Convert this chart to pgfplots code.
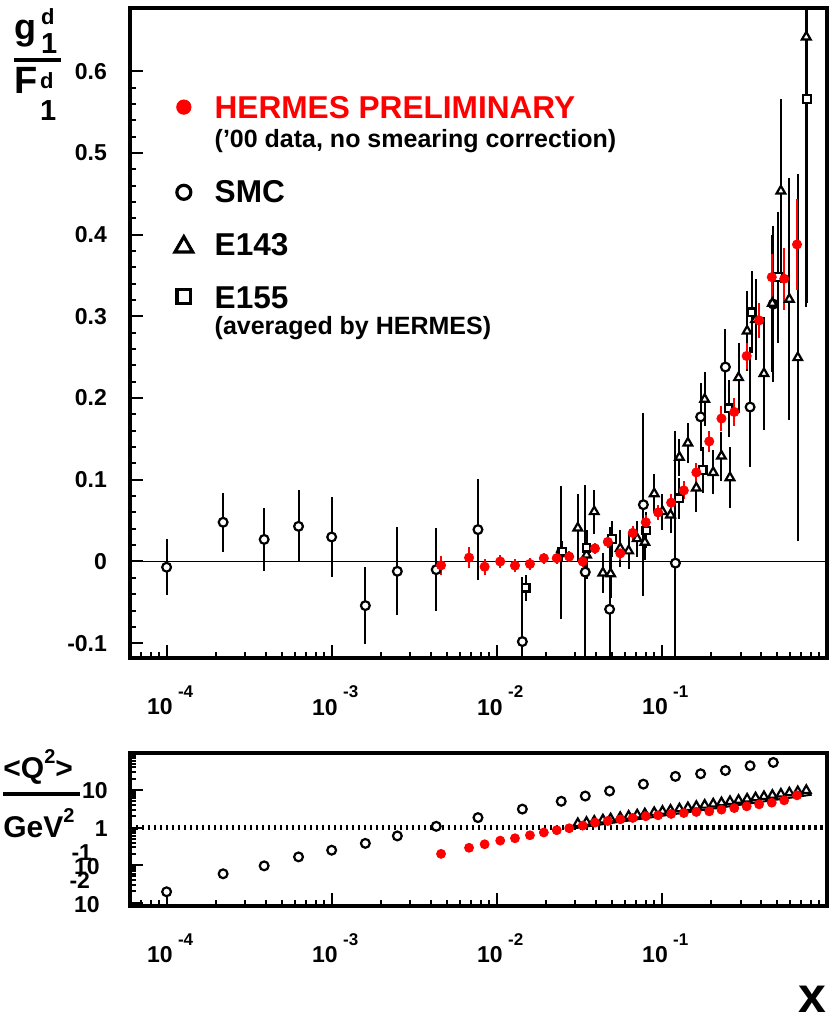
\documentclass[border=0pt]{standalone}
\usepackage{pgfplots}
\usepackage{pgfplotstable}
\pgfplotsset{compat=1.18}
\usepackage{fontspec}
\setmainfont{Liberation Sans}
\setsansfont{Liberation Sans}

\newcommand{\fs}[1]{\fontsize{#1}{#1}\selectfont}
\newcommand{\xl}[1]{10\hspace{2.7pt}\raisebox{8.7pt}{\fs{8.5}#1}}

% g1/F1 (top panel): x, value, stat. error
\pgfplotstableread{
x y ey
0.0046 -0.0047 0.012
0.0068 0.0047 0.0125
0.00845 -0.0064 0.010
0.0105 0.0 0.008
0.0129 -0.005 0.008
0.0159 -0.003 0.007
0.0193 0.004 0.007
0.0231 0.004 0.007
0.0275 0.006 0.007
0.0332 0.0 0.007
0.0394 0.016 0.007
0.0471 0.024 0.008
0.0561 0.010 0.008
0.0667 0.035 0.009
0.080 0.048 0.009
0.095 0.060 0.009
0.114 0.072 0.010
0.136 0.087 0.011
0.162 0.109 0.012
0.194 0.147 0.013
0.230 0.175 0.015
0.275 0.183 0.017
0.327 0.2515 0.016
0.389 0.295 0.021
0.464 0.348 0.028
0.552 0.346 0.038
0.660 0.388 0.056
}\hermes

\pgfplotstableread{
x y ey
0.0001 -0.007 0.034
0.00022 0.048 0.036
0.00039 0.027 0.039
0.00063 0.043 0.044
0.001 0.030 0.049
0.0016 -0.054 0.047
0.0025 -0.012 0.054
0.0043 -0.010 0.051
0.0077 0.039 0.062
0.0143 -0.098 0.079
0.0246 0.011 0.081
0.0344 -0.013 0.107
0.0483 -0.0585 0.101
0.0774 0.0695 0.112
0.121 -0.002 0.162
0.172 0.177 0.042
0.243 0.238 0.046
0.343 0.189 0.073
0.474 0.315 0.095
}\smc

\pgfplotstableread{
x y ey
0.031 0.041 0.041
0.035 0.008 0.030
0.039 0.061 0.027
0.044 -0.014 0.025
0.049 -0.015 0.030
0.056 0.016 0.023
0.063 0.013 0.022
0.071 0.028 0.022
0.079 0.0235 0.022
0.090 0.083 0.024
0.101 0.061 0.022
0.113 0.057 0.022
0.128 0.1275 0.023
0.144 0.145 0.024
0.162 0.090 0.030
0.182 0.1985 0.033
0.205 0.109 0.027
0.230 0.129 0.030
0.259 0.1026 0.037
0.292 0.225 0.043
0.329 0.282 0.049
0.370 0.296 0.050
0.416 0.230 0.069
0.468 0.316 0.084
0.527 0.4535 0.113
0.593 0.321 0.148
0.667 0.2495 0.225
0.751 0.642 0.33
}\esla

\pgfplotstableread{
x y ey
0.015 -0.032 0.016
0.025 0.012 0.013
0.035 0.017 0.015
0.050 0.0275 0.022
0.0805 0.038 0.022
0.127 0.0773 0.025
0.177 0.112 0.028
0.254 0.1875 0.035
0.351 0.305 0.05
0.505 0.348 0.08
0.757 0.566 0.25
}\eslb

% <Q^2> (bottom panel)
\pgfplotstableread{
x q
0.0046 0.20
0.0068 0.29
0.00845 0.36
0.0105 0.45
0.0129 0.52
0.0159 0.625
0.0193 0.74
0.0231 0.85
0.0275 0.96
0.0332 1.13
0.0394 1.36
0.0471 1.50
0.0561 1.66
0.0667 1.80
0.080 2.00
0.095 2.12
0.114 2.30
0.136 2.44
0.162 2.60
0.194 2.70
0.230 3.00
0.275 3.30
0.327 3.67
0.389 4.15
0.464 4.60
0.552 5.30
0.660 7.20
}\hermesq

\pgfplotstableread{
x q
0.0001 0.0196
0.00022 0.059
0.00039 0.096
0.00063 0.166
0.001 0.25
0.0016 0.38
0.0025 0.60
0.0043 1.08
0.0077 1.84
0.0143 3.1
0.0246 5.0
0.0344 6.9
0.0483 9.4
0.0774 14.3
0.121 23
0.172 27
0.243 33
0.343 44
0.474 54
}\smcq

\pgfplotstableread{
x q
0.031 1.28
0.035 1.38
0.039 1.48
0.044 1.60
0.049 1.71
0.056 1.86
0.063 2.01
0.071 2.17
0.079 2.32
0.090 2.52
0.101 2.71
0.113 2.91
0.128 3.16
0.144 3.40
0.162 3.67
0.182 3.95
0.205 4.26
0.230 4.59
0.259 4.95
0.292 5.34
0.329 5.76
0.370 6.21
0.416 6.69
0.468 7.22
0.527 7.79
0.593 8.40
0.667 9.05
0.751 9.77
}\eslaq

\pgfplotsset{
  opensmc/.style={forget plot, only marks, black, mark=*, mark size=2.2pt,
    mark options={fill=white, draw=black, line width=1.1pt}},
  opentri/.style={forget plot, only marks, black, mark=triangle*, mark size=2.5pt,
    mark options={fill=white, draw=black, line width=1.1pt}},
  opensq/.style={forget plot, only marks, black, mark=square*, mark size=1.9pt,
    mark options={fill=white, draw=black, line width=1.1pt}},
  reddot/.style={forget plot, only marks, red, mark=*, mark size=2.3pt},
  legmark/.style={legend image code/.code={%
    \draw[##1] plot[only marks] coordinates {(0pt,#1)};}},
}

\begin{document}
\begin{tikzpicture}
\useasboundingbox (0,0) rectangle (415pt,-511.5pt);

% ---- upper panel: g1/F1 ----
\begin{axis}[
  at={(65pt,-4.15pt)}, anchor=north west,
  scale only axis, width=348.4pt, height=325pt,
  xmode=log, xmin=6e-5, xmax=1,
  ymin=-0.1185, ymax=0.677,
  axis line style={line width=2pt},
  xtick={1e-4,1e-3,1e-2,1e-1},
  xticklabels={\xl{-4},\xl{-3},\xl{-2},\xl{-1}},
  minor xtick={7e-5,8e-5,9e-5,2e-4,3e-4,4e-4,5e-4,6e-4,7e-4,8e-4,9e-4,
    2e-3,3e-3,4e-3,5e-3,6e-3,7e-3,8e-3,9e-3,0.02,0.03,0.04,0.05,0.06,0.07,0.08,0.09,
    0.2,0.3,0.4,0.5,0.6,0.7,0.8,0.9},
  ytick={-0.1,0,0.1,0.2,0.3,0.4,0.5,0.6},
  yticklabels={-0.1,0,0.1,0.2,0.3,0.4,0.5,0.6},
  minor y tick num=4,
  xtick pos=bottom, ytick pos=left,
  tick style={line width=1pt, black},
  major tick length=6.5pt, minor tick length=3pt,
  yticklabel style={font=\bfseries\fs{11.5}, xshift=-8pt},
  xticklabel style={font=\bfseries\fs{11.5}, anchor=north, xshift=1.75pt, yshift=-10.2pt},
  legend style={at={(axis description cs:0.0646,0.8677)}, anchor=north west,
    draw=none, fill=none, inner sep=0pt, outer sep=0pt,
    row sep=10.5pt, column sep=11pt,
    cells={anchor=base west}, nodes={inner sep=0pt, text depth=},
    font=\bfseries\fs{15.8}},
]
\addplot[forget plot, black, line width=0.6pt] coordinates {(6e-5,0) (1,0)};

\addplot[opensmc, error bars/y dir=both, error bars/y explicit, error bars/error mark=none,
  error bars/error bar style={line width=1pt, black}]
  table[x=x, y=y, y error=ey] {\smc};
\addplot[opentri, error bars/y dir=both, error bars/y explicit, error bars/error mark=none,
  error bars/error bar style={line width=1pt, black}]
  table[x=x, y=y, y error=ey] {\esla};
\addplot[opensq, error bars/y dir=both, error bars/y explicit, error bars/error mark=none,
  error bars/error bar style={line width=1pt, black}]
  table[x=x, y=y, y error=ey] {\eslb};
\addplot[reddot, error bars/y dir=both, error bars/y explicit, error bars/error mark=none,
  error bars/error bar style={line width=1pt, red}]
  table[x=x, y=y, y error=ey] {\hermes};

\addlegendimage{red, mark=*, mark size=3.6pt, legmark=5.6pt}
\addlegendentry{\vtop{\baselineskip=14.5pt
  \hbox{\color{red}\rule{0pt}{12pt}HERMES PRELIMINARY}
  \hbox{\fs{12.5}(’00 data, no smearing correction)\rule[-5pt]{0pt}{5pt}}}}
\addlegendimage{black, mark=*, mark size=3.5pt, mark options={fill=white, line width=1.6pt},
  legmark=5pt}
\addlegendentry{\rule[-4pt]{0pt}{16pt}SMC}
\addlegendimage{black, mark=triangle*, mark size=5.1pt, mark options={fill=white, line width=1.6pt},
  legmark=4.2pt}
\addlegendentry{\rule[-4pt]{0pt}{16pt}E143}
\addlegendimage{black, mark=square*, mark size=3.4pt, mark options={fill=white, line width=1.6pt},
  legmark=5.8pt}
\addlegendentry{\vtop{\baselineskip=13.2pt
  \hbox{\rule{0pt}{12pt}E155}
  \hbox{\fs{12.5}(averaged by HERMES)\rule[-4pt]{0pt}{4pt}}}}
\end{axis}

% ---- lower panel: <Q^2> ----
\begin{axis}[
  at={(65pt,-376.35pt)}, anchor=north west,
  scale only axis, width=348.4pt, height=76.65pt,
  xmode=log, xmin=6e-5, xmax=1,
  ymode=log, ymin=0.0082, ymax=98,
  axis line style={line width=2pt},
  xtick={1e-4,1e-3,1e-2,1e-1},
  xticklabels={\xl{-4},\xl{-3},\xl{-2},\xl{-1}},
  minor xtick={7e-5,8e-5,9e-5,2e-4,3e-4,4e-4,5e-4,6e-4,7e-4,8e-4,9e-4,
    2e-3,3e-3,4e-3,5e-3,6e-3,7e-3,8e-3,9e-3,0.02,0.03,0.04,0.05,0.06,0.07,0.08,0.09,
    0.2,0.3,0.4,0.5,0.6,0.7,0.8,0.9},
  ytick={0.01,0.1,1,10}, yticklabels={},
  minor ytick={0.009,0.02,0.03,0.04,0.05,0.06,0.07,0.08,0.09,
    0.2,0.3,0.4,0.5,0.6,0.7,0.8,0.9,2,3,4,5,6,7,8,9,20,30,40,50,60,70,80,90},
  xtick pos=bottom, ytick pos=left,
  tick style={line width=1pt, black},
  major tick length=6.5pt, minor tick length=3pt,
  xticklabel style={font=\bfseries\fs{11.5}, anchor=north, xshift=1.75pt, yshift=-10.2pt},
]
\addplot[forget plot, black, line width=2.5pt, dash pattern=on 1.25pt off 1.75pt]
  coordinates {(6e-5,1) (1,1)};
\addplot[forget plot, black, line width=1pt] coordinates {(0.0285,0.94) (0.81,7.5)};
\addplot[opensmc] table[x=x, y=q] {\smcq};
\addplot[opentri] table[x=x, y=q] {\eslaq};
\addplot[reddot, mark size=2.25pt] table[x=x, y=q] {\hermesq};
\end{axis}

% ---- titles and hand-set labels (pixel grid of the original) ----
\begin{scope}[x=0.5pt, y=-0.5pt, every node/.style={inner sep=0pt, font=\bfseries}]
  % g1^d / F1^d
  \node[anchor=base west] at (14,39)
    {\fs{18}g\hspace{2.4pt}\rlap{\raisebox{7.5pt}{\fs{11}d}}\raisebox{-7pt}{\fs{14.5}1}};
  \fill (14,58) rectangle (61,62);
  \node[anchor=base west] at (14,93)
    {\fs{19}F\hspace{1.3pt}\rlap{\raisebox{2.5pt}{\fs{11}d}}\raisebox{-13.5pt}{\fs{14.5}1}};
  % <Q^2> / GeV^2
  \node[anchor=base west] at (3,778) {\fs{15}<Q\raisebox{0.5em}{\fs{10}2}>};
  \fill (3,792) rectangle (80,796);
  \node[anchor=base west] at (3,837) {\fs{15}GeV\raisebox{0.5em}{\fs{10}2}};
  % log tick labels of the lower panel, ROOT style
  \node[anchor=east, font=\bfseries\fs{11.5}] at (108,791) {10};
  \node[anchor=east, font=\bfseries\fs{11.5}] at (108,829) {1};
  \node[anchor=base east, font=\bfseries\fs{11.5}] at (100,874)
    {\llap{\raisebox{7pt}{-1}\hspace{-9pt}}10};
  \node[anchor=base east, font=\bfseries\fs{11.5}] at (100,912)
    {\llap{\raisebox{12pt}{-2}\hspace{-8pt}}10};
  % axis title
  \node[anchor=base east] at (827,1012) {\fs{25}x};
\end{scope}
\end{tikzpicture}
\end{document}
